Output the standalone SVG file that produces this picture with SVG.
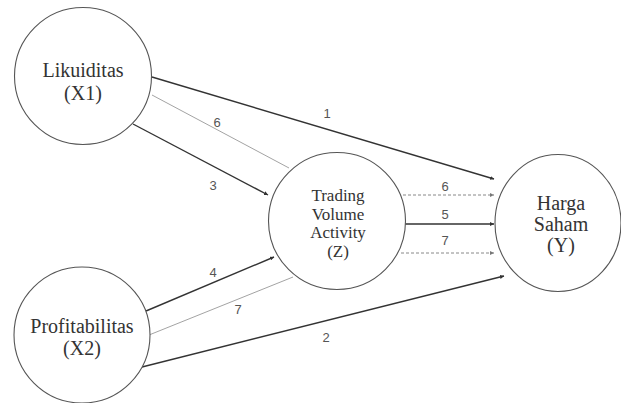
<svg xmlns="http://www.w3.org/2000/svg" width="621" height="403" viewBox="0 0 621 403">
<defs>
<style>
.node{fill:#fff;stroke:#555;stroke-width:1.1}
.t{font-family:"Liberation Serif","Times New Roman",serif;fill:#333;text-anchor:middle}
.lbl{font-family:"Liberation Sans",Arial,sans-serif;font-size:13px;fill:#555;text-anchor:middle}
.main{stroke:#333;stroke-width:1.4;fill:none}
.light{stroke:#999;stroke-width:0.9;fill:none}
.dash{stroke:#888;stroke-width:1;stroke-dasharray:3,2;fill:none}
</style>
<marker id="ah" viewBox="0 0 6 6" refX="6" refY="3" markerWidth="4" markerHeight="4" markerUnits="userSpaceOnUse" orient="auto">
<path d="M0,0 L6,3 L0,6 z" fill="#333"/>
</marker>
<marker id="ahl" viewBox="0 0 6 6" refX="6" refY="3" markerWidth="4" markerHeight="4" markerUnits="userSpaceOnUse" orient="auto">
<path d="M0,0 L6,3 L0,6 z" fill="#777"/>
</marker>
</defs>
<rect width="621" height="403" fill="#fff"/>
<g id="connectors">
<line class="main" x1="152" y1="77" x2="494" y2="179" marker-end="url(#ah)"/>
<line class="light" x1="152" y1="95" x2="289" y2="168"/>
<line class="main" x1="133" y1="124" x2="268" y2="195" marker-end="url(#ah)"/>
<line class="main" x1="146" y1="311" x2="274" y2="257" marker-end="url(#ah)"/>
<line class="light" x1="149" y1="335" x2="293" y2="277"/>
<line class="main" x1="142" y1="367" x2="504" y2="276" marker-end="url(#ah)"/>
<line class="dash" x1="403" y1="195" x2="494" y2="195" marker-end="url(#ahl)"/>
<line class="main" x1="405" y1="224" x2="494" y2="224" marker-end="url(#ah)"/>
<line class="dash" x1="401" y1="253" x2="494" y2="253" marker-end="url(#ahl)"/>
<text class="lbl" x="327" y="118">1</text>
<text class="lbl" x="217" y="127">6</text>
<text class="lbl" x="213" y="190">3</text>
<text class="lbl" x="213" y="277">4</text>
<text class="lbl" x="238" y="314">7</text>
<text class="lbl" x="326" y="342">2</text>
<text class="lbl" x="445" y="191">6</text>
<text class="lbl" x="445" y="219">5</text>
<text class="lbl" x="445" y="245">7</text>
</g>
<g id="x1">
<circle class="node" cx="83" cy="76" r="68.5"/>
<text class="t" x="83" y="77" font-size="20">Likuiditas</text>
<text class="t" x="83" y="100" font-size="20">(X1)</text>
</g>
<g id="x2">
<circle class="node" cx="82" cy="335" r="68"/>
<text class="t" x="82" y="333" font-size="20">Profitabilitas</text>
<text class="t" x="82" y="355" font-size="20">(X2)</text>
</g>
<g id="z">
<circle class="node" cx="337" cy="221" r="68.5"/>
<text class="t" x="338" y="201" font-size="17">Trading</text>
<text class="t" x="338" y="219.5" font-size="17">Volume</text>
<text class="t" x="338" y="238" font-size="17">Activity</text>
<text class="t" x="338" y="256.5" font-size="17">(Z)</text>
</g>
<g id="y">
<ellipse class="node" cx="558" cy="223" rx="63" ry="68.5"/>
<text class="t" x="561" y="210" font-size="20">Harga</text>
<text class="t" x="561" y="231" font-size="20">Saham</text>
<text class="t" x="561" y="252" font-size="20">(Y)</text>
</g>
</svg>
